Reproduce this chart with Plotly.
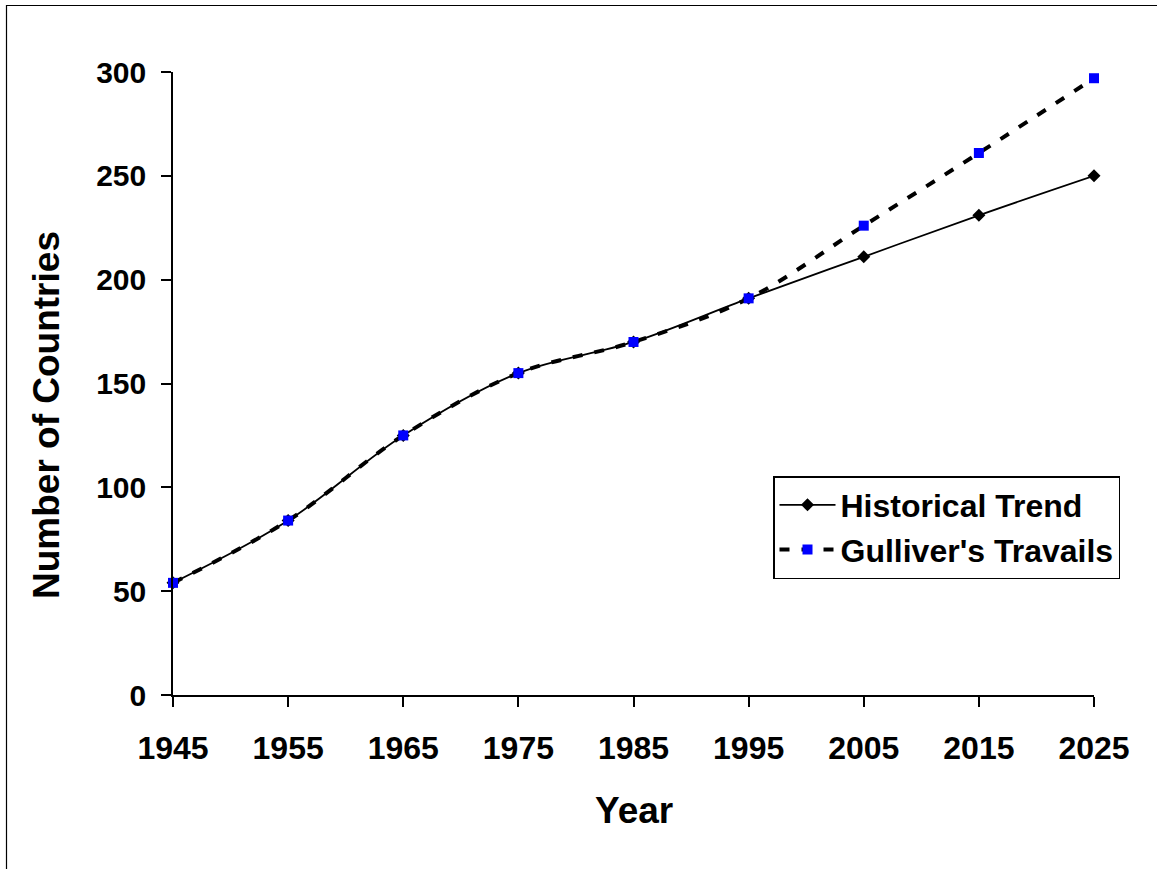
import plotly.graph_objects as go

# Data
years = [1945, 1955, 1965, 1975, 1985, 1995, 2005, 2015, 2025]
historical_trend = [54, 84, 125, 155, 170, 191, 211, 231, 250]
gullivers_travails = [54, 84, 125, 155, 170, 191, 226, 261, 297]
x_ticks = [1945, 1955, 1965, 1975, 1985, 1995, 2005, 2015, 2025]
y_ticks = [0, 50, 100, 150, 200, 250, 300]

FONT = "Liberation Sans, Arial, sans-serif"

W, H = 1157, 869
L, R, T, B = 173, 63, 72, 174
pw, ph = W - L - R, H - T - B


def px_x(p):
    return (p - L) / pw


def px_y(p):
    return (H - B - p) / ph


fig = go.Figure()

fig.add_trace(go.Scatter(
    x=years, y=historical_trend, name="Historical Trend",
    mode="lines+markers", legendgroup="a", cliponaxis=False,
    line=dict(color="black", width=1.8, shape="spline", smoothing=1),
    marker=dict(symbol="diamond", size=10, color="black"),
))
fig.add_trace(go.Scatter(
    x=years, y=gullivers_travails, name="Gulliver's Travails",
    mode="lines+markers", legendgroup="b", cliponaxis=False,
    line=dict(color="black", width=4, dash="10px,12px", shape="spline", smoothing=1),
    marker=dict(symbol="square", size=10, color="#0000FF"),
))

fig.update_layout(
    width=W, height=H,
    margin=dict(l=L, r=R, t=T, b=B, pad=0),
    paper_bgcolor="white", plot_bgcolor="white",
    font=dict(family=FONT, color="black"),
    showlegend=True,
    legend=dict(
        x=px_x(773), y=px_y(476), xanchor="left", yanchor="top",
        bgcolor="white", bordercolor="black", borderwidth=1.5,
        font=dict(family=FONT, size=32, color="black", weight="bold"),
        tracegroupgap=0, itemwidth=56,
    ),
    xaxis=dict(
        range=[1945, 2025], tickvals=x_ticks, ticktext=[str(v) for v in x_ticks],
        showgrid=False, zeroline=False, showline=True, linecolor="black", linewidth=1.5,
        ticks="outside", ticklen=10, tickwidth=1.5, tickcolor="black",
        tickfont=dict(family=FONT, size=32, color="black", weight="bold"),
        ticklabelstandoff=14,
    ),
    yaxis=dict(
        range=[0, 300], tickvals=y_ticks,
        showgrid=False, zeroline=False, showline=True, linecolor="black", linewidth=1.5,
        ticks="outside", ticklen=10, tickwidth=1.5, tickcolor="black",
        tickfont=dict(family=FONT, size=30, color="black", weight="bold"),
        ticklabelstandoff=9,
    ),
    annotations=[
        dict(text="Year", xref="paper", yref="paper", x=0.5, y=px_y(810),
             xanchor="center", yanchor="middle", showarrow=False,
             font=dict(family=FONT, size=37, color="black", weight="bold")),
        dict(text="Number of Countries", xref="paper", yref="paper",
             x=px_x(46), y=px_y(415), xanchor="center", yanchor="middle",
             textangle=-90, showarrow=False,
             font=dict(family=FONT, size=37, color="black", weight="bold")),
    ],
    shapes=[
        dict(type="rect", xref="paper", yref="paper",
             x0=px_x(6.5), y0=-0.6, x1=1.3, y1=px_y(5.5),
             line=dict(color="black", width=1.2), fillcolor="rgba(0,0,0,0)",
             layer="below"),
    ],
)

fig.write_html("out.html")
